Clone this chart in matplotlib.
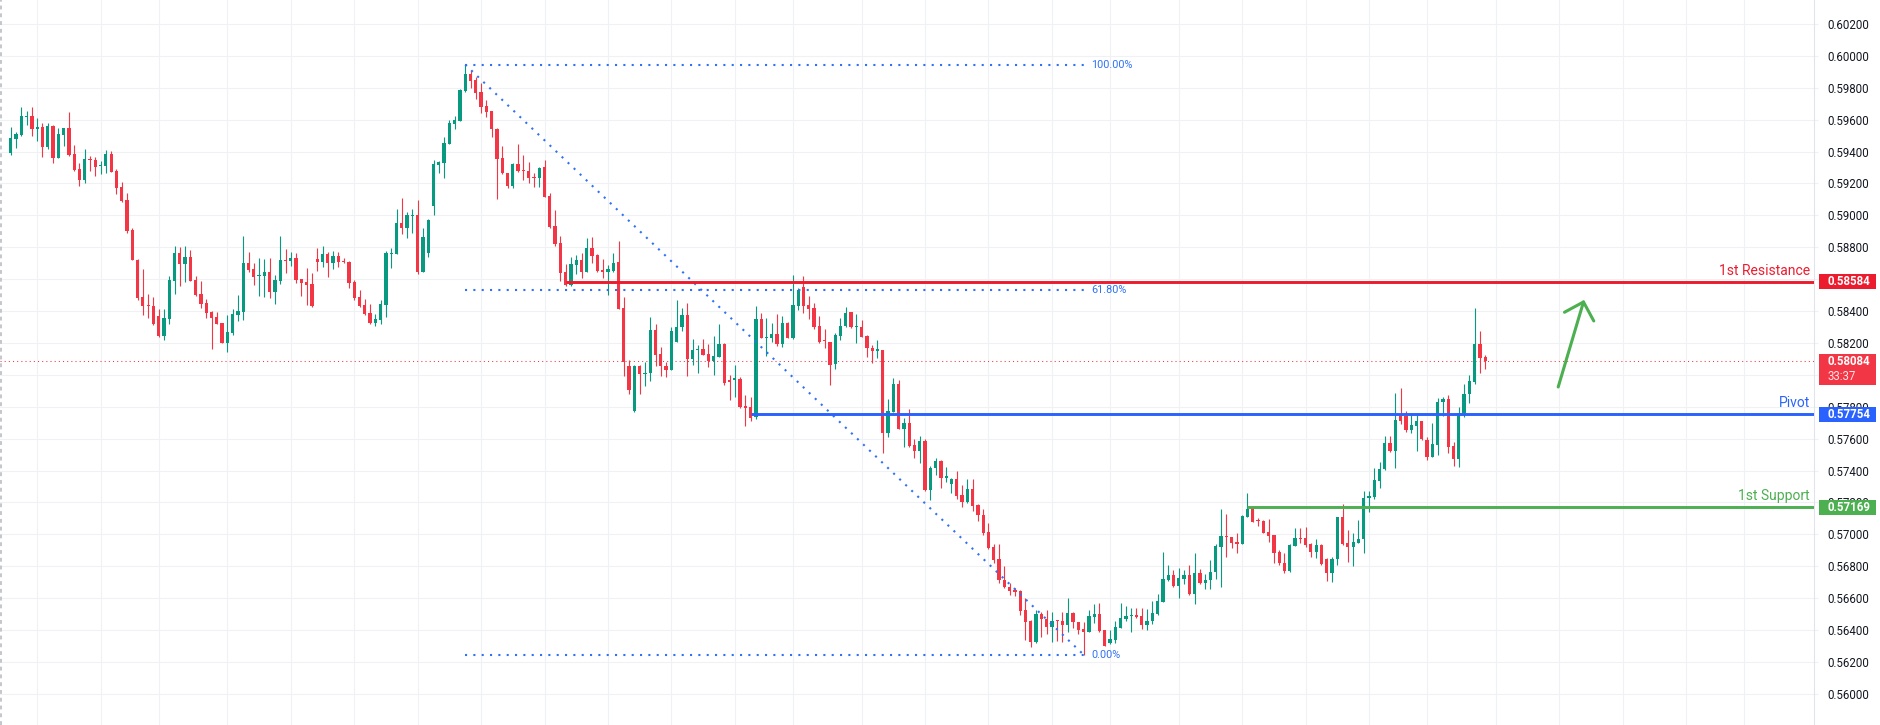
import matplotlib
matplotlib.use("Agg")
import matplotlib.pyplot as plt
import matplotlib.transforms as mtransforms
from matplotlib.patches import Rectangle
import numpy as np

plt.rcParams['font.family'] = ['Roboto', 'DejaVu Sans']

# ---------------- data ----------------
opens = [
0.59393,0.59481,0.59504,0.59617,0.59623,0.59543,0.59554,0.59431,0.59560,0.59362,
0.59506,0.59548,0.59385,0.59291,0.59224,0.59355,0.59347,0.59311,0.59311,0.59385,
0.59278,0.59178,0.59096,0.58908,0.58722,0.58488,0.58438,0.58432,0.58369,0.58244,
0.58352,0.58590,0.58764,0.58695,0.58739,0.58595,0.58507,0.58450,0.58394,0.58363,
0.58325,0.58202,0.58262,0.58375,0.58394,0.58701,0.58664,0.58620,0.58620,0.58645,
0.58519,0.58588,0.58720,0.58714,0.58733,0.58599,0.58582,0.58570,0.58726,0.58707,
0.58758,0.58701,0.58745,0.58716,0.58707,0.58582,0.58488,0.58438,0.58388,0.58325,
0.58344,0.58438,0.58758,0.58758,0.58952,0.58921,0.58996,0.59002,0.58647,0.58761,
0.59061,0.59318,0.59331,0.59450,0.59571,0.59594,0.59782,0.59887,0.59849,0.59776,
0.59686,0.59655,0.59540,0.59362,0.59264,0.59185,0.59323,0.59285,0.59279,0.59243,
0.59237,0.59300,0.59122,0.58934,0.58825,0.58643,0.58564,0.58689,0.58721,0.58647,
0.58794,0.58752,0.58658,0.58647,0.58654,0.58710,0.58417,0.58056,0.57776,0.58056,
0.58008,0.58010,0.58282,0.58131,0.58056,0.58031,0.58208,0.58298,0.58376,0.58098,
0.58156,0.58162,0.58131,0.58089,0.58115,0.58194,0.57968,0.57968,0.57974,0.57807,
0.57797,0.57738,0.58349,0.58234,0.58234,0.58257,0.58194,0.58323,0.58234,0.58434,
0.58549,0.58438,0.58422,0.58307,0.58217,0.58209,0.58067,0.58246,0.58307,0.58391,
0.58299,0.58299,0.58244,0.58167,0.58152,0.58157,0.57638,0.57770,0.57943,0.57663,
0.57697,0.57561,0.57525,0.57586,0.57279,0.57415,0.57461,0.57356,0.57316,0.57346,
0.57247,0.57201,0.57283,0.57185,0.57122,0.57017,0.56919,0.56846,0.56714,0.56668,
0.56652,0.56648,0.56526,0.56457,0.56324,0.56499,0.56468,0.56422,0.56464,0.56459,
0.56432,0.56505,0.56453,0.56407,0.56390,0.56484,0.56501,0.56401,0.56317,0.56338,
0.56416,0.56468,0.56491,0.56495,0.56489,0.56432,0.56457,0.56501,0.56579,0.56714,
0.56746,0.56679,0.56721,0.56746,0.56625,0.56760,0.56698,0.56714,0.56767,0.56923,
0.56990,0.56982,0.56951,0.56942,0.57112,0.57168,0.57091,0.57086,0.57013,0.56997,
0.56892,0.56819,0.56771,0.56930,0.56976,0.56976,0.56940,0.56892,0.56934,0.56846,
0.56760,0.56844,0.57107,0.56944,0.56923,0.56948,0.56969,0.57227,0.57237,0.57337,
0.57408,0.57571,0.57525,0.57739,0.57743,0.57655,0.57682,0.57713,0.57592,0.57488,
0.57561,0.57828,0.57849,0.57557,0.57471,0.57759,0.57881,0.57958,0.58194,0.58115]

highs = [
0.59556,0.59525,0.59681,0.59656,0.59681,0.59608,0.59581,0.59581,0.59566,0.59546,
0.59548,0.59650,0.59441,0.59326,0.59416,0.59372,0.59364,0.59341,0.59410,0.59403,
0.59291,0.59209,0.59138,0.58923,0.58726,0.58664,0.58507,0.58488,0.58413,0.58415,
0.58620,0.58808,0.58802,0.58808,0.58783,0.58620,0.58588,0.58475,0.58400,0.58394,
0.58327,0.58375,0.58413,0.58501,0.58870,0.58770,0.58701,0.58733,0.58726,0.58733,
0.58626,0.58870,0.58789,0.58770,0.58764,0.58601,0.58670,0.58639,0.58795,0.58808,
0.58770,0.58776,0.58770,0.58733,0.58714,0.58595,0.58532,0.58475,0.58444,0.58381,
0.58469,0.58776,0.58795,0.59040,0.59109,0.59021,0.59040,0.59096,0.58923,0.58976,
0.59348,0.59343,0.59490,0.59598,0.59623,0.59791,0.59945,0.59912,0.59870,0.59832,
0.59724,0.59657,0.59546,0.59435,0.59268,0.59327,0.59448,0.59379,0.59337,0.59268,
0.59306,0.59348,0.59139,0.59034,0.58871,0.58696,0.58741,0.58752,0.58767,0.58858,
0.58863,0.58758,0.58725,0.58689,0.58762,0.58840,0.58486,0.58094,0.58062,0.58062,
0.58079,0.58365,0.58319,0.58173,0.58083,0.58298,0.58470,0.58417,0.58449,0.58225,
0.58187,0.58225,0.58194,0.58244,0.58319,0.58198,0.57999,0.58062,0.57985,0.57874,
0.57860,0.58432,0.58386,0.58355,0.58323,0.58380,0.58369,0.58334,0.58626,0.58543,
0.58620,0.58495,0.58453,0.58366,0.58286,0.58209,0.58261,0.58355,0.58428,0.58397,
0.58382,0.58345,0.58251,0.58188,0.58219,0.58157,0.57847,0.57979,0.57968,0.57728,
0.57787,0.57596,0.57617,0.57596,0.57429,0.57477,0.57467,0.57425,0.57352,0.57398,
0.57310,0.57346,0.57346,0.57191,0.57157,0.57074,0.56940,0.56940,0.56802,0.56694,
0.56662,0.56652,0.56600,0.56464,0.56526,0.56516,0.56526,0.56516,0.56464,0.56516,
0.56600,0.56516,0.56453,0.56449,0.56526,0.56564,0.56572,0.56401,0.56401,0.56459,
0.56572,0.56551,0.56537,0.56537,0.56537,0.56530,0.56583,0.56627,0.56892,0.56808,
0.56777,0.56788,0.56777,0.56808,0.56882,0.56781,0.56752,0.56840,0.56940,0.57160,
0.57128,0.56986,0.57007,0.57122,0.57262,0.57170,0.57101,0.57091,0.57095,0.56997,
0.56903,0.56882,0.56940,0.57038,0.57043,0.57049,0.56948,0.56971,0.56938,0.56854,
0.56861,0.57107,0.57191,0.57028,0.57007,0.57091,0.57275,0.57275,0.57415,0.57452,
0.57617,0.57617,0.57885,0.57916,0.57776,0.57759,0.57759,0.57713,0.57613,0.57697,
0.57853,0.57860,0.57874,0.57582,0.57797,0.57943,0.58000,0.58418,0.58276,0.58125]

lows = [
0.59378,0.59424,0.59500,0.59566,0.59497,0.59466,0.59366,0.59418,0.59330,0.59358,
0.59435,0.59372,0.59278,0.59184,0.59205,0.59280,0.59247,0.59259,0.59268,0.59270,
0.59136,0.59086,0.58887,0.58718,0.58471,0.58375,0.58354,0.58312,0.58237,0.58220,
0.58319,0.58507,0.58557,0.58582,0.58588,0.58494,0.58419,0.58356,0.58162,0.58318,
0.58200,0.58143,0.58248,0.58340,0.58344,0.58645,0.58563,0.58494,0.58488,0.58482,
0.58444,0.58570,0.58639,0.58682,0.58576,0.58494,0.58438,0.58425,0.58651,0.58676,
0.58613,0.58664,0.58676,0.58701,0.58544,0.58469,0.58425,0.58378,0.58319,0.58306,
0.58319,0.58363,0.58670,0.58755,0.58883,0.58858,0.58889,0.58632,0.58645,0.58736,
0.59005,0.59268,0.59237,0.59448,0.59540,0.59594,0.59776,0.59801,0.59732,0.59640,
0.59619,0.59494,0.59103,0.59260,0.59174,0.59174,0.59274,0.59222,0.59201,0.59180,
0.59180,0.59115,0.58923,0.58810,0.58591,0.58560,0.58558,0.58633,0.58606,0.58645,
0.58704,0.58647,0.58606,0.58501,0.58647,0.58410,0.57995,0.57880,0.57770,0.57880,
0.57933,0.57964,0.58058,0.57995,0.57985,0.58029,0.58206,0.58277,0.57995,0.58062,
0.58014,0.58123,0.58052,0.57999,0.58110,0.57937,0.57843,0.57860,0.57791,0.57682,
0.57713,0.57724,0.58229,0.58119,0.58208,0.58181,0.58177,0.58229,0.58223,0.58407,
0.58390,0.58350,0.58288,0.58198,0.58167,0.57937,0.58037,0.58219,0.58303,0.58294,
0.58198,0.58236,0.58115,0.58073,0.58104,0.57513,0.57613,0.57766,0.57659,0.57546,
0.57550,0.57477,0.57450,0.57275,0.57216,0.57373,0.57293,0.57331,0.57258,0.57222,
0.57174,0.57199,0.57149,0.57086,0.56997,0.56907,0.56819,0.56698,0.56662,0.56620,
0.56614,0.56495,0.56338,0.56296,0.56317,0.56359,0.56374,0.56324,0.56334,0.56324,
0.56390,0.56411,0.56374,0.56246,0.56386,0.56447,0.56390,0.56298,0.56313,0.56317,
0.56411,0.56459,0.56390,0.56478,0.56407,0.56401,0.56440,0.56495,0.56575,0.56708,
0.56668,0.56604,0.56689,0.56620,0.56564,0.56689,0.56656,0.56656,0.56719,0.56668,
0.56857,0.56913,0.56886,0.56938,0.57110,0.57076,0.57053,0.57009,0.56955,0.56819,
0.56808,0.56756,0.56767,0.56928,0.56948,0.56923,0.56861,0.56850,0.56808,0.56710,
0.56704,0.56808,0.56934,0.56829,0.56804,0.56944,0.56882,0.57143,0.57220,0.57289,
0.57404,0.57519,0.57415,0.57693,0.57644,0.57634,0.57525,0.57592,0.57467,0.57484,
0.57498,0.57739,0.57513,0.57431,0.57425,0.57734,0.57822,0.57943,0.58014,0.58035]

closes = [
0.59483,0.59510,0.59623,0.59623,0.59543,0.59554,0.59431,0.59560,0.59362,0.59510,
0.59548,0.59376,0.59284,0.59224,0.59353,0.59349,0.59305,0.59316,0.59385,0.59274,
0.59174,0.59090,0.58902,0.58720,0.58482,0.58434,0.58434,0.58321,0.58244,0.58356,
0.58595,0.58766,0.58695,0.58739,0.58590,0.58501,0.58444,0.58388,0.58358,0.58321,
0.58202,0.58269,0.58381,0.58400,0.58701,0.58657,0.58616,0.58626,0.58645,0.58519,
0.58595,0.58720,0.58714,0.58733,0.58595,0.58576,0.58563,0.58432,0.58707,0.58758,
0.58701,0.58745,0.58707,0.58707,0.58576,0.58482,0.58432,0.58381,0.58325,0.58350,
0.58444,0.58764,0.58766,0.58952,0.58921,0.59002,0.59002,0.58645,0.58865,0.58968,
0.59323,0.59335,0.59454,0.59578,0.59598,0.59787,0.59887,0.59845,0.59770,0.59682,
0.59651,0.59540,0.59356,0.59264,0.59185,0.59323,0.59279,0.59281,0.59237,0.59237,
0.59295,0.59118,0.58927,0.58821,0.58641,0.58564,0.58696,0.58721,0.58647,0.58794,
0.58746,0.58654,0.58647,0.58662,0.58704,0.58413,0.58083,0.57906,0.58056,0.58006,
0.58014,0.58282,0.58125,0.58058,0.58031,0.58275,0.58298,0.58376,0.58098,0.58156,
0.58162,0.58125,0.58089,0.58119,0.58194,0.57947,0.57953,0.57979,0.57801,0.57791,
0.57728,0.58349,0.58234,0.58240,0.58257,0.58194,0.58323,0.58234,0.58438,0.58532,
0.58432,0.58413,0.58302,0.58209,0.58211,0.58062,0.58251,0.58307,0.58386,0.58299,
0.58305,0.58240,0.58167,0.58152,0.58159,0.57638,0.57774,0.57943,0.57663,0.57697,
0.57557,0.57525,0.57586,0.57279,0.57415,0.57461,0.57356,0.57364,0.57346,0.57243,
0.57201,0.57283,0.57180,0.57120,0.57011,0.56913,0.56840,0.56714,0.56668,0.56648,
0.56641,0.56522,0.56453,0.56324,0.56499,0.56468,0.56422,0.56459,0.56457,0.56432,
0.56505,0.56453,0.56401,0.56390,0.56489,0.56501,0.56397,0.56303,0.56344,0.56418,
0.56474,0.56489,0.56497,0.56484,0.56432,0.56457,0.56510,0.56583,0.56721,0.56746,
0.56677,0.56729,0.56746,0.56625,0.56760,0.56698,0.56714,0.56767,0.56928,0.56990,
0.56986,0.56948,0.56942,0.57116,0.57160,0.57080,0.57084,0.57011,0.56992,0.56882,
0.56819,0.56771,0.56934,0.56976,0.56969,0.56934,0.56892,0.56934,0.56813,0.56760,
0.56846,0.57107,0.56940,0.56923,0.56951,0.56969,0.57227,0.57241,0.57341,0.57408,
0.57571,0.57525,0.57718,0.57713,0.57655,0.57686,0.57713,0.57596,0.57488,0.57567,
0.57833,0.57849,0.57550,0.57471,0.57759,0.57881,0.57964,0.58194,0.58108,0.58084]

price_ticks = [0.56000, 0.56200, 0.56400, 0.56600, 0.56800, 0.57000, 0.57200,
               0.57400, 0.57600, 0.57800, 0.58000, 0.58200, 0.58400, 0.58600,
               0.58800, 0.59000, 0.59200, 0.59400, 0.59600, 0.59800, 0.60000,
               0.60200]
time_grid = [5, 17, 28, 41, 53, 65, 77, 89, 101, 113, 125, 137, 148, 161, 173,
             185, 197, 208, 221, 233, 245, 257, 268, 281, 293, 305, 317, 328]

# key levels: (value, start bar, label, colour)
levels = [
    (0.58584, 105, "1st Resistance", "#EC1C2E"),
    (0.57754, 140, "Pivot", "#2962FF"),
    (0.57169, 234, "1st Support", "#4CAF50"),
]
last_price = 0.58084
countdown = "33:37"

# Fibonacci retracement anchors (bar, price)
fib_start = (86, 0.59945)
fib_end = (203, 0.56246)
fib_ratios = [1.0, 0.618, 0.0]
fib_labels = ["100.00%", "61.80%", "0.00%"]

arrow_tail = (292.8, 0.57924)
arrow_tip = (297.7, 0.58470)

# ---------------- style ----------------
UP, DOWN = "#089981", "#F23645"
GRID = "#F0F1F4"
FIB = "#3072F5"
W, H = 1881, 725
AX_W = 1814

fig = plt.figure(figsize=(W / 100, H / 100), dpi=100)
ax = fig.add_axes([0, 0, AX_W / W, 1])
ymin, ymax = 0.55805, 0.60350
xmin, xmax = -2.03, 341.2
ax.set_xlim(xmin, xmax)
ax.set_ylim(ymin, ymax)
ppx = (ymax - ymin) / H  # price per pixel

ax.set_yticks(price_ticks)
ax.set_yticklabels([f"{t:.5f}" for t in price_ticks])
ax.set_xticks(time_grid)
ax.set_xticklabels([])
ax.yaxis.tick_right()
ax.tick_params(axis='y', length=3, color=GRID, pad=6.5, labelsize=8.3,
               labelcolor="#131722")
ax.tick_params(axis='x', length=0)
ax.grid(True, color=GRID, lw=0.75, zorder=0)
ax.set_axisbelow(True)
for s in ['left', 'top', 'bottom']:
    ax.spines[s].set_visible(False)
ax.spines['right'].set_color("#E0E3EB")
ax.spines['right'].set_linewidth(0.75)

# left edge dotted border
ax.plot([0.0005, 0.0005], [0, 1], transform=ax.transAxes, color="#C4C6CC",
        lw=1.4, linestyle=(0, (2, 2)), clip_on=False)

# ---------------- candles ----------------
o = np.array(opens); h = np.array(highs); l = np.array(lows); c = np.array(closes)
idx = np.arange(len(o))
cols = np.where(c >= o, UP, DOWN)
ax.vlines(idx, l, h, colors=cols, lw=0.8, zorder=3)
body_h = np.maximum(np.abs(c - o), ppx)
ax.bar(idx, body_h, bottom=np.minimum(o, c), width=0.62, color=cols,
       linewidth=0, zorder=3.1)

# current price dotted line
ax.axhline(last_price, color=DOWN, lw=0.75, linestyle=(0, (1, 3)), zorder=2)

# ---------------- Fibonacci ----------------
x0, p0 = fib_start
x1, p1 = fib_end
for r, lab in zip(fib_ratios, fib_labels):
    lv = p1 + r * (p0 - p1)
    ax.plot([x0, x1], [lv, lv], color=FIB, lw=1.5, linestyle=(0, (1, 3)),
            zorder=4)
    ax.annotate(lab, xy=(x1, lv), xytext=(5.5, 0), textcoords='offset points',
                va='center', ha='left', color=FIB, fontsize=7.8, zorder=6)
ax.plot([x0, x1], [p0, p1], color=FIB, lw=1.5, linestyle=(0, (1, 3)), zorder=4)

# ---------------- key levels ----------------
blend = mtransforms.blended_transform_factory(ax.transAxes, ax.transData)
box_x = 1819 / AX_W
box_w = 57 / AX_W
txt_x = 1827.5 / AX_W
for val, start, lab, col in levels:
    ax.plot([start, xmax], [val, val], color=col, lw=2.1, zorder=4.5,
            solid_capstyle='butt')
    ax.annotate(lab, xy=(1810 / AX_W, val), xycoords=blend, xytext=(0, 3),
                textcoords='offset points', ha='right', va='bottom',
                color=col, fontsize=10, zorder=6)
    ax.add_patch(Rectangle((box_x, val - 7.5 * ppx), box_w, 15 * ppx,
                           transform=blend, facecolor=col, edgecolor='none',
                           clip_on=False, zorder=7))
    ax.text(txt_x, val, f"{val:.5f}", transform=blend, ha='left',
            va='center', color='white', fontsize=8.3, fontweight='bold',
            clip_on=False, zorder=8)

# current price box
ax.add_patch(Rectangle((box_x, last_price - 23.5 * ppx), box_w, 31 * ppx,
                       transform=blend, facecolor=DOWN, edgecolor='none',
                       clip_on=False, zorder=7))
ax.text(txt_x, last_price, f"{last_price:.5f}", transform=blend, ha='left',
        va='center', color='white', fontsize=8.3, fontweight='bold',
        clip_on=False, zorder=8)
ax.text(txt_x, last_price - 15 * ppx, countdown, transform=blend, ha='left',
        va='center', color='#FFE3E6', fontsize=8.3, clip_on=False, zorder=8)

# ---------------- arrow ----------------
ax.annotate('', xy=arrow_tip, xytext=arrow_tail,
            arrowprops=dict(arrowstyle='->,head_length=0.55,head_width=0.55',
                            color='#4CAF50', lw=2.2, mutation_scale=20,
                            shrinkA=0, shrinkB=0), zorder=6)

fig.savefig('out.png', dpi=100, facecolor='white')
